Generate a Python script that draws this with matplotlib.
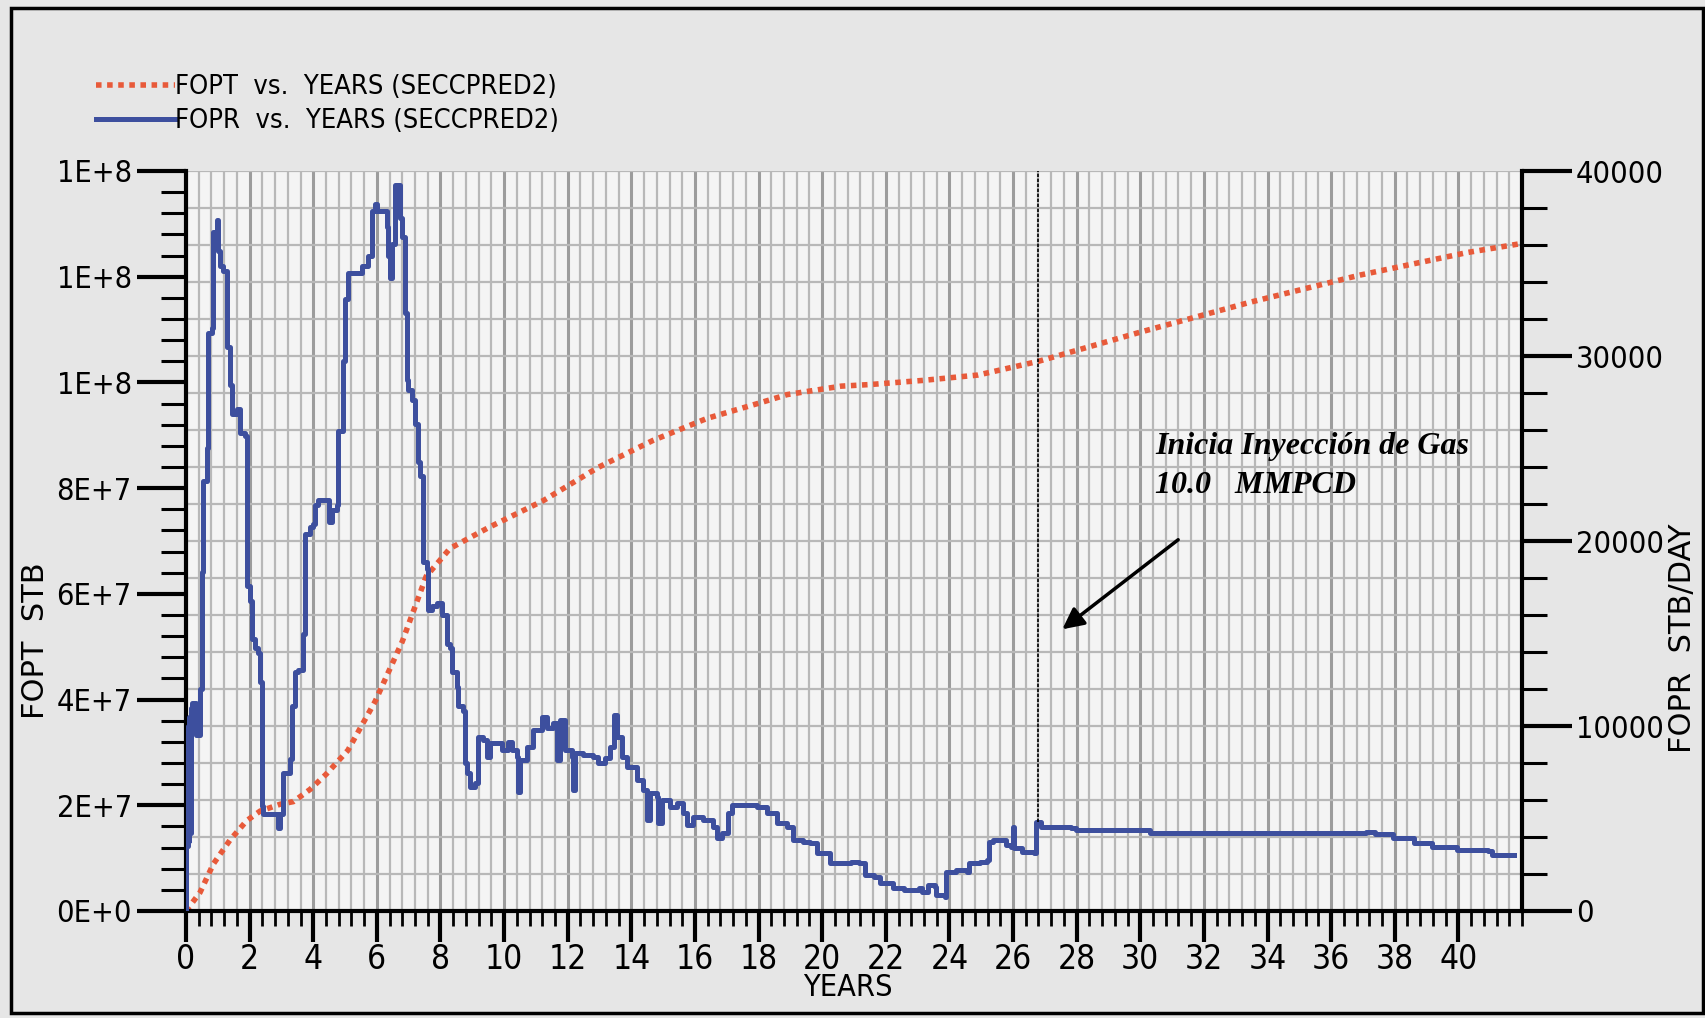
import numpy as np
import matplotlib
matplotlib.use("Agg")
import matplotlib.pyplot as plt
from matplotlib.ticker import MultipleLocator, FixedLocator, FuncFormatter
from matplotlib.patches import Rectangle

# FOPT (field oil production total, STB) - left axis
fopt_years = [0.0, 0.44, 0.86, 1.38, 1.91, 2.33, 2.96, 3.38, 3.9, 4.41, 5.09, 5.95,
              6.8, 7.55, 8.3, 9.53, 11.25, 12.95, 14.67, 16.38, 18.08, 18.9, 20.6,
              21.5, 23.2, 24.9, 26.8, 30.05, 33.47, 36.9, 40.3, 42.0]
fopt_values = [0, 3.5e6, 8.9e6, 13.4e6, 17.1e6, 18.9e6, 20.2e6, 20.7e6, 23.0e6, 25.9e6,
               30.4e6, 39.7e6, 51.0e6, 63.3e6, 68.6e6, 72.6e6, 77.7e6, 83.9e6, 89.0e6,
               93.2e6, 96.2e6, 97.7e6, 99.3e6, 99.6e6, 100.4e6, 101.4e6, 104.0e6,
               109.6e6, 115.2e6, 120.3e6, 124.6e6, 126.3e6]

# FOPR (field oil production rate, STB/DAY) - right axis
fopr_years = [0.0, 0.01, 0.03, 0.05, 0.08, 0.10, 0.13, 0.16, 0.18, 0.30, 0.33, 0.44,
              0.49, 0.55, 0.65, 0.70, 0.81, 0.86, 0.96, 1.02, 1.07, 1.17, 1.28, 1.38,
              1.44, 1.59, 1.70, 1.86, 1.91, 2.01, 2.07, 2.17, 2.27, 2.33, 2.38, 2.43,
              2.75, 2.90, 2.96, 3.06, 3.27, 3.32, 3.43, 3.53, 3.69, 3.74, 3.90, 4.00,
              4.06, 4.16, 4.37, 4.48, 4.58, 4.74, 4.79, 4.95, 5.00, 5.10, 5.37, 5.52,
              5.73, 5.84, 5.94, 6.00, 6.26, 6.31, 6.36, 6.42, 6.47, 6.57, 6.68, 6.73,
              6.78, 6.89, 6.94, 6.99, 7.10, 7.20, 7.30, 7.36, 7.46, 7.57, 7.62, 7.73,
              7.88, 8.04, 8.20, 8.30, 8.36, 8.51, 8.56, 8.72, 8.77, 8.83, 8.93, 9.09,
              9.18, 9.34, 9.46, 9.56, 9.78, 9.93, 10.13, 10.25, 10.40, 10.44, 10.50,
              10.72, 10.91, 11.19, 11.35, 11.54, 11.67, 11.76, 11.92, 12.14, 12.17,
              12.23, 12.48, 12.80, 12.96, 13.18, 13.33, 13.46, 13.55, 13.71, 13.87,
              14.18, 14.37, 14.50, 14.59, 14.81, 14.84, 14.97, 15.22, 15.44, 15.63,
              15.76, 15.94, 16.26, 16.57, 16.70, 16.86, 17.04, 17.17, 17.42, 17.96,
              18.27, 18.58, 18.90, 19.09, 19.40, 19.62, 19.84, 20.25, 20.47, 20.90,
              21.15, 21.35, 21.63, 21.83, 22.23, 22.58, 23.05, 23.13, 23.33, 23.54,
              23.58, 23.87, 23.90, 24.21, 24.56, 24.63, 24.97, 25.18, 25.25, 25.38,
              25.79, 25.95, 26.00, 26.04, 26.27, 26.67, 26.72, 26.88, 27.83, 27.97,
              30.16, 30.29, 34.50, 37.10, 37.38, 37.93, 38.61, 39.16, 39.97, 40.93,
              41.06, 41.74]
fopr_values = [0, 9500, 3500, 10000, 3800, 10500, 4200, 11000, 11240, 11240, 9530, 12000,
               18300, 23240, 25050, 31260, 31500, 36700, 37350, 35680, 34880, 34620, 30490, 28430,
               26870, 27130, 25840, 25700, 17570, 16780, 14700, 14190, 13940, 12380, 5680, 5270,
               5270, 4490, 5270, 7460, 8240, 11080, 12920, 13030, 14970, 20400, 20780, 20920,
               21940, 22220, 22220, 21040, 21690, 21940, 25950, 29710, 33080, 34480, 34480, 34880,
               35400, 37850, 38240, 37850, 37850, 36950, 35400, 34230, 36050, 39270, 39270, 37460,
               36430, 32300, 28680, 28160, 27640, 26350, 24270, 23510, 18850, 18460, 16270, 16510,
               16640, 16000, 14440, 14190, 12920, 12120, 11080, 10830, 8000, 7460, 6700, 6900,
               9400, 9240, 8320, 9080, 9080, 8700, 9130, 8700, 8320, 6430, 8160,
               8860, 9780, 10490, 9890, 10160, 8160, 10320, 8700, 8320, 6540,
               8540, 8430, 8320, 8000, 8270, 8860, 10590, 9400, 8320, 7780,
               7080, 6540, 4920, 6380, 6160, 4760, 6000, 5620, 5840, 5300,
               4650, 5080, 4920, 4540, 3950, 4220, 5300, 5730, 5730, 5620,
               5300, 4760, 4540, 3840, 3730, 3680, 3140, 2590, 2590, 2670,
               2590, 1950, 1850, 1510, 1240, 1140, 1240, 1040, 1400, 1310,
               860, 770, 2120, 2220, 2120, 2590, 2660, 2760, 3750, 3840,
               3570, 3480, 4560, 3400, 3200, 3130, 4830, 4560, 4480, 4380,
               4380, 4230, 4200, 4290, 4160, 3950, 3680, 3460, 3300, 3250,
               3030, 3030]

x_ticks = list(range(0, 41, 2))
left_ticks = [0, 2e7, 4e7, 6e7, 8e7, 1.0e8, 1.2e8, 1.4e8]
right_ticks = [0, 10000, 20000, 30000, 40000]
gas_start_year = 26.8

RED = "#e85a3a"
BLUE = "#3d4f9e"

plt.rcParams["font.family"] = ["DejaVu Sans"]
plt.rcParams["font.stretch"] = "condensed"

fig = plt.figure(figsize=(17.05, 10.18), dpi=100, facecolor="#e6e6e6")
rect = [186 / 1705, 1 - 911 / 1018, 1336 / 1705, 740 / 1018]

# background grid
gax = fig.add_axes(rect, zorder=0)
gax.set_facecolor("#f4f4f4")
gax.set_xlim(0, 42)
gax.set_ylim(0, 40000)
gax.xaxis.set_major_locator(MultipleLocator(2))
gax.xaxis.set_minor_locator(MultipleLocator(0.4))
gax.yaxis.set_major_locator(MultipleLocator(10000))
gax.yaxis.set_minor_locator(MultipleLocator(2000))
gax.grid(which="minor", color="#b8b8b8", lw=1.6)
gax.grid(which="major", axis="y", color="#b8b8b8", lw=1.6)
gax.grid(which="major", axis="x", color="#9c9c9c", lw=2.2)
gax.tick_params(which="both", length=0, labelbottom=False, labelleft=False)
for s in gax.spines.values():
    s.set_visible(False)

ax = fig.add_axes(rect, zorder=1)
ax.patch.set_visible(False)
ax2 = ax.twinx()
ax2.set_zorder(2)
ax2.patch.set_visible(False)

l1, = ax.plot(fopt_years, fopt_values, color=RED, lw=4, ls=(0, (1, 1)))
l2, = ax2.plot(fopr_years, fopr_values, color=BLUE, lw=3.6, drawstyle="steps-post")

ax.set_xlim(0, 42)
ax.set_ylim(0, 1.4e8)
ax2.set_ylim(0, 40000)

ax.xaxis.set_major_locator(FixedLocator(x_ticks))
ax.xaxis.set_minor_locator(MultipleLocator(0.4))
ax.yaxis.set_major_locator(FixedLocator(left_ticks))
ax.yaxis.set_minor_locator(MultipleLocator(4e6))
ax.yaxis.set_major_formatter(FuncFormatter(lambda v, p: f"{v:.0E}".replace("E+0", "E+")))
ax2.yaxis.set_major_locator(FixedLocator(right_ticks))
ax2.yaxis.set_minor_locator(MultipleLocator(2000))
ax2.yaxis.set_major_formatter(FuncFormatter(lambda v, p: f"{v:.0f}"))

ax.tick_params(axis="y", which="major", length=35, width=3, pad=4, labelsize=22)
ax.tick_params(axis="y", which="minor", length=18, width=2.2)
ax.tick_params(axis="x", which="major", length=22, width=3, pad=1, labelsize=24)
ax.tick_params(axis="x", which="minor", length=11, width=2)
ax2.tick_params(axis="y", which="major", length=36, width=3, pad=3, labelsize=22)
ax2.tick_params(axis="y", which="minor", length=18, width=2.2)

ax.spines["top"].set_visible(False)
ax.spines["right"].set_visible(False)
ax.spines["left"].set_linewidth(3)
ax.spines["bottom"].set_linewidth(3)
for k in ["top", "left", "bottom"]:
    ax2.spines[k].set_visible(False)
ax2.spines["right"].set_linewidth(3)

ax.set_ylabel("FOPT  STB", fontsize=22, fontstretch="normal", va="center")
ax.yaxis.set_label_coords(-0.113, 0.365)
ax2.set_ylabel("FOPR  STB/DAY", fontsize=22, fontstretch="normal", va="center")
ax2.yaxis.set_label_coords(1.12, 0.369)
ax.set_xlabel("YEARS", fontsize=22, va="center")
ax.xaxis.set_label_coords(0.4955, -0.103)

# start of gas injection
ax2.vlines(gas_start_year, 4830, 40000, color="black", lw=1.2, ls=(0, (2, 1)))
ax2.text(30.47, 25900, "Inicia Inyección de Gas\n10.0   MMPCD", family="Liberation Serif",
         style="italic", weight="bold", fontsize=23, fontstretch="normal",
         ha="left", va="top", linespacing=1.45)
ax2.annotate("", xy=(27.48, 15135), xytext=(31.26, 20160),
             arrowprops=dict(arrowstyle="-|>", color="black", lw=2.5, mutation_scale=32))

ax.legend([l1, l2], ["FOPT  vs.  YEARS (SECCPRED2)", "FOPR  vs.  YEARS (SECCPRED2)"],
          loc="upper left", bbox_to_anchor=(96 / 1705, 1 - 74 / 1018),
          bbox_transform=fig.transFigure, frameon=False, fontsize=19.5,
          handlelength=2.9, handletextpad=0.0, labelspacing=0.3,
          borderpad=0, borderaxespad=0)

fig.add_artist(Rectangle((11 / 1705, 1 - 1013 / 1018), 1692 / 1705, 1005 / 1018,
                         transform=fig.transFigure, fill=False, lw=2.5, ec="black"))

fig.savefig("out.png", dpi=100, facecolor=fig.get_facecolor())
